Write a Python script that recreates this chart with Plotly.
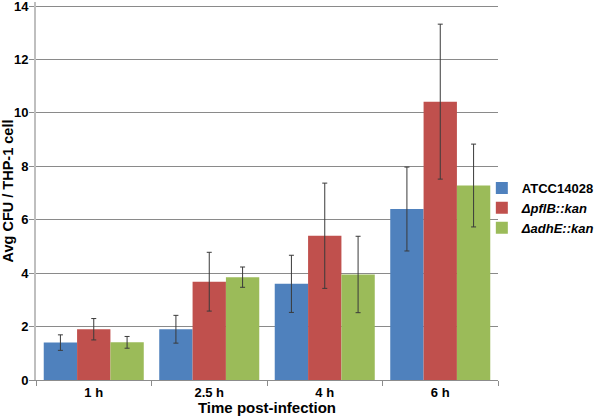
import plotly.graph_objects as go

categories = ["1 h", "2.5 h", "4 h", "6 h"]
series_names = ["ATCC14028", "<i>ΔpflB::kan</i>", "<i>ΔadhE::kan</i>"]
atcc = [1.40, 1.90, 3.60, 6.40]
atcc_err = [0.29, 0.52, 1.07, 1.57]
pflb = [1.90, 3.68, 5.40, 10.42]
pflb_err = [0.40, 1.10, 1.97, 2.90]
adhe = [1.41, 3.85, 3.95, 7.28]
adhe_err = [0.22, 0.38, 1.43, 1.55]
colors = ["#4F81BD", "#C0504D", "#9BBB59"]
y_ticks = [0, 2, 4, 6, 8, 10, 12, 14]

FONT = "Liberation Sans, Arial, sans-serif"

fig = go.Figure()
for name, vals, errs, col in zip(series_names, [atcc, pflb, adhe],
                                 [atcc_err, pflb_err, adhe_err], colors):
    fig.add_trace(go.Bar(
        x=categories, y=vals, name=name,
        marker=dict(color=col, line=dict(width=0)),
        error_y=dict(type="data", array=errs, visible=True,
                     color="#3a3a3a", thickness=1, width=2.5),
    ))

fig.update_layout(
    width=600, height=416,
    margin=dict(l=36, r=102, t=2, b=36, autoexpand=False),
    paper_bgcolor="white", plot_bgcolor="white",
    barmode="group", bargap=0.134, bargroupgap=0,
    font=dict(family=FONT, size=13, color="black", weight="bold"),
    showlegend=True,
    legend=dict(x=0.965, y=0.455, xanchor="left", yanchor="middle",
                font=dict(family=FONT, size=13, color="black", weight="bold"),
                bgcolor="rgba(0,0,0,0)", itemwidth=30, tracegroupgap=0),
    xaxis=dict(
        title=dict(text="Time post-infection", font=dict(size=15, weight="bold")),
        tickfont=dict(size=13, weight="bold"),
        showline=True, linecolor="#8c8c8c", linewidth=1,
        ticks="outside", tickson="boundaries", ticklen=5, tickcolor="#8c8c8c",
        showgrid=False, automargin=False,
    ),
    yaxis=dict(
        title=dict(text="Avg CFU / THP-1 cell", font=dict(size=14.5, weight="bold")),
        tickfont=dict(size=13, weight="bold"),
        range=[0, 14.15], tickvals=y_ticks,
        ticklabeloverflow="allow", ticklabelstandoff=-2,
        showline=True, linecolor="#bfbfbf", linewidth=2,
        ticks="outside", ticklen=5, tickcolor="#8c8c8c",
        showgrid=True, gridcolor="#8a8a8a", gridwidth=1,
        zeroline=False, automargin=False,
    ),
)

fig.write_html("out.html",
               config={"displayModeBar": False},
               post_script="document.body.style.margin='0';document.body.style.padding='0';")
